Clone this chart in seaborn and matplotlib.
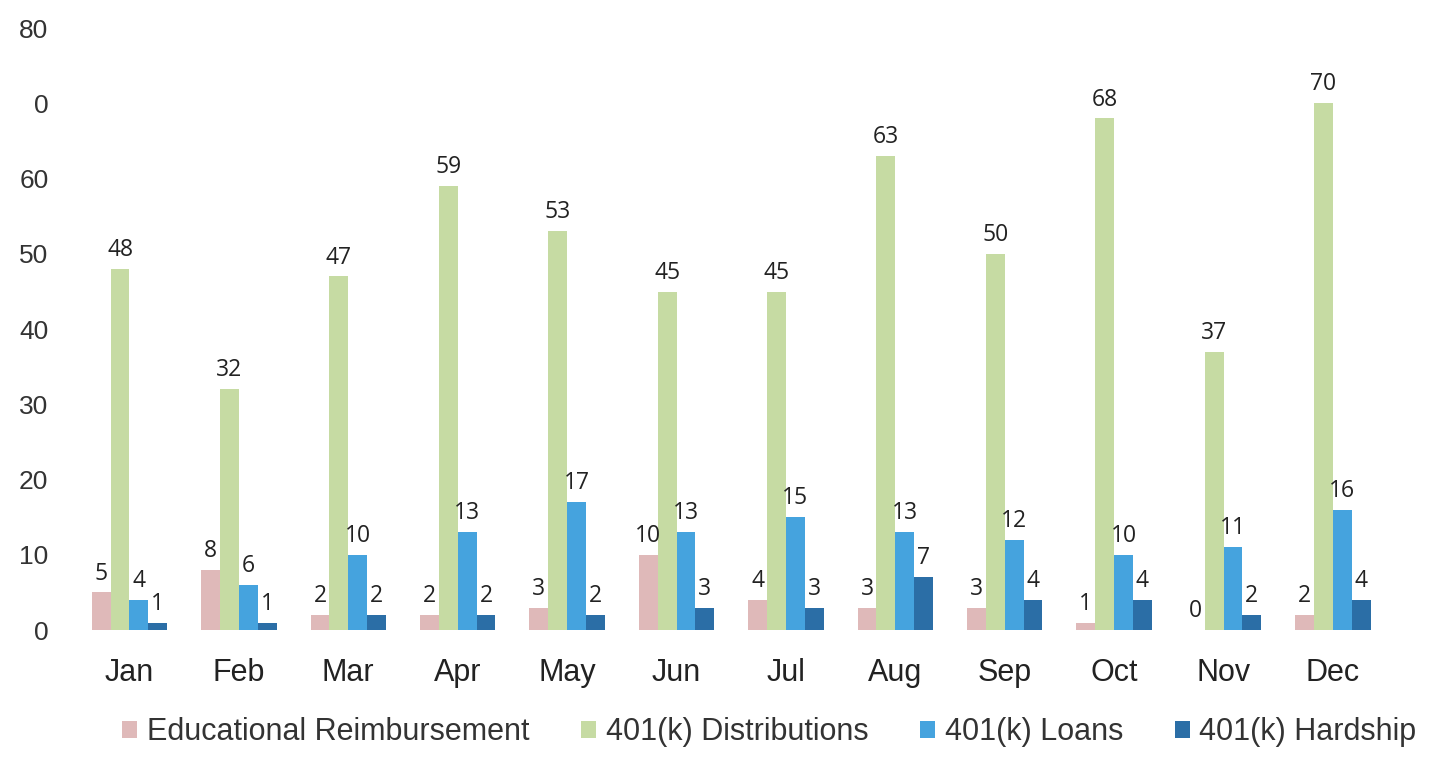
import matplotlib
matplotlib.use("Agg")
import matplotlib.pyplot as plt
import pandas as pd
import seaborn as sns

# Valores
meses = ["Jan", "Feb", "Mar", "Apr", "May", "Jun", "Jul", "Aug", "Sep", "Oct", "Nov", "Dec"]
educacional = [5, 8, 2, 2, 3, 10, 4, 3, 3, 1, 0, 2]
distribuicoes = [48, 32, 47, 59, 53, 45, 45, 63, 50, 68, 37, 70]
emprestimos = [4, 6, 10, 13, 17, 13, 15, 13, 12, 10, 11, 16]
dificuldade = [1, 1, 2, 2, 2, 3, 3, 7, 4, 4, 2, 4]
series = ["Educational Reimbursement", "401(k) Distributions", "401(k) Loans", "401(k) Hardship"]
yticks = [0, 10, 20, 30, 40, 50, 60, 70, 80]
ytick_labels = ["0", "10", "20", "30", "40", "50", "60", "0", "80"]

cores = ["#dfb9b9", "#c6dba3", "#45a3de", "#2b6ea6"]

df = pd.DataFrame({
    "Mes": meses * 4,
    "Serie": [s for s in series for _ in meses],
    "Valor": educacional + distribuicoes + emprestimos + dificuldade,
})

sns.set_style("white")
plt.rcParams["font.family"] = ["Liberation Sans", "DejaVu Sans"]

fig = plt.figure(figsize=(14.38, 7.61), dpi=100)
ax = fig.add_axes([0.052, 0.172, 0.913, 0.791])

sns.barplot(data=df, x="Mes", y="Valor", hue="Serie", order=meses, hue_order=series,
            palette=cores, width=0.69, gap=0, saturation=1, linewidth=0,
            ax=ax, legend=True)

# Rótulos de valor acima de cada barra
for cont in ax.containers:
    ax.bar_label(cont, padding=5, fontsize=16.5, color="#222222", family="Open Sans")

ax.set_ylim(0, 80)
ax.set_xlim(-0.5, 11.5)
ax.set_yticks(yticks)
ax.set_yticklabels(ytick_labels)
ax.tick_params(axis="y", labelsize=19, colors="#333333", length=0, pad=19)
ax.tick_params(axis="x", labelsize=22, colors="#222222", length=0, pad=20)
ax.set_xlabel("")
ax.set_ylabel("")
sns.despine(ax=ax, left=True, bottom=True)

ax.legend(loc="lower center", bbox_to_anchor=(0.535, -0.018), bbox_transform=fig.transFigure,
          ncol=4, frameon=False, fontsize=22, handlelength=0.5, handleheight=0.5,
          handletextpad=0.3, columnspacing=1.7, labelcolor="#333333")

fig.savefig("out.png", dpi=100)
plt.close(fig)
